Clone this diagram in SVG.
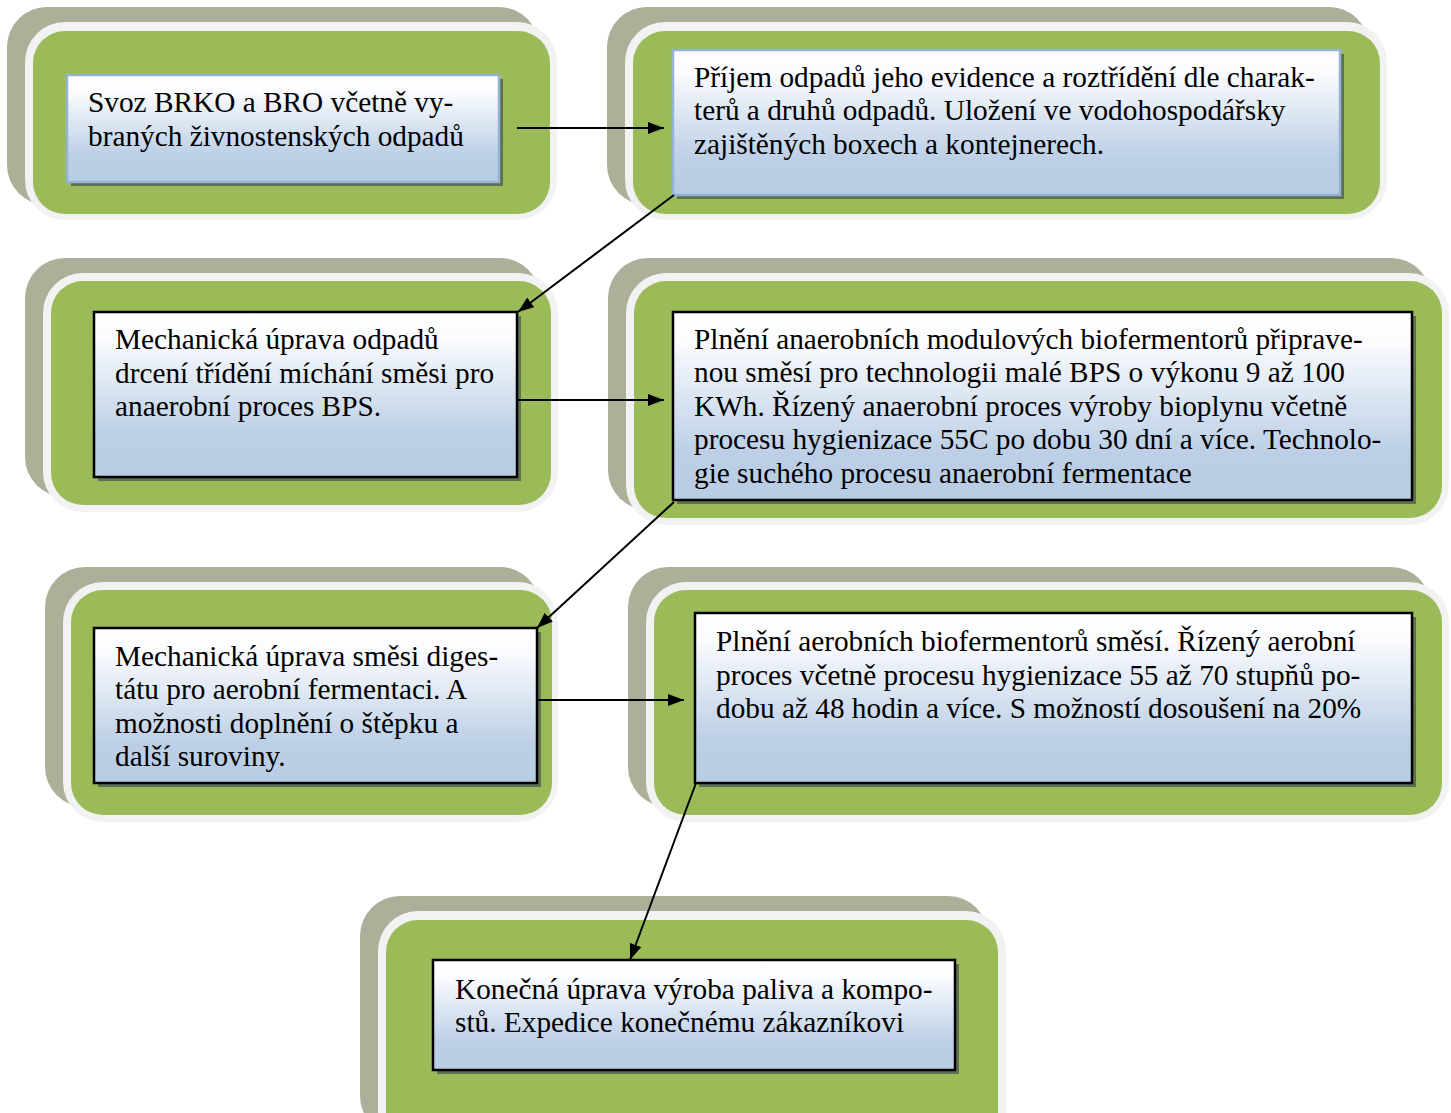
<svg xmlns="http://www.w3.org/2000/svg" width="1451" height="1113" viewBox="0 0 1451 1113">
<defs>
<linearGradient id="bg" x1="0" y1="0" x2="0" y2="1"><stop offset="0" stop-color="#ffffff"/><stop offset="0.15" stop-color="#fbfcfe"/><stop offset="0.75" stop-color="#bccfe6"/><stop offset="1" stop-color="#b8cce4"/></linearGradient>
<marker id="ah" viewBox="0 0 16 12" refX="16" refY="6" markerWidth="16" markerHeight="12" markerUnits="userSpaceOnUse" orient="auto"><path d="M0,0 L16,6 L0,12 z" fill="#000"/></marker>
</defs>
<style>
.sh{fill:#abb098}
.bd{fill:#f2f2f2}
.gr{fill:#9bbb59}
.bs{fill:#5f7052}
.bx{fill:url(#bg);stroke:#000;stroke-width:2.5}
.bx.lb{stroke:#95b3d7}
.t{font-family:"Liberation Serif","Times New Roman",serif;font-size:29.3px;fill:#000}
.c{stroke:#000;stroke-width:2;fill:none;marker-end:url(#ah)}
</style>
<rect width="1451" height="1113" fill="#fff"/>

<g id="n1">
<rect class="sh" x="7" y="7" width="532" height="198" rx="40"/>
<rect class="bd" x="25" y="22" width="532" height="198" rx="40"/>
<rect class="gr" x="33" y="31" width="517" height="183" rx="32"/>
<rect class="bs" x="71" y="79" width="432" height="107"/>
<rect class="bx lb" x="67" y="75" width="432" height="107"/>
<text class="t"><tspan x="88" y="112">Svoz BRKO a BRO včetně vy-</tspan><tspan x="88" y="146">braných živnostenských odpadů</tspan></text>
</g>

<g id="n2">
<rect class="sh" x="607" y="7" width="762" height="198" rx="40"/>
<rect class="bd" x="625" y="22" width="762" height="198" rx="40"/>
<rect class="gr" x="633" y="31" width="747" height="183" rx="32"/>
<rect class="bs" x="677" y="54" width="667" height="145"/>
<rect class="bx lb" x="673" y="50" width="667" height="145"/>
<text class="t"><tspan x="694" y="87">Příjem odpadů jeho evidence a roztřídění dle charak-</tspan><tspan x="694" y="120">terů a druhů odpadů. Uložení ve vodohospodářsky</tspan><tspan x="694" y="154">zajištěných boxech a kontejnerech.</tspan></text>
</g>

<g id="n3">
<rect class="sh" x="25" y="258" width="515" height="239" rx="40"/>
<rect class="bd" x="43" y="273" width="515" height="239" rx="40"/>
<rect class="gr" x="51" y="281" width="500" height="224" rx="32"/>
<rect class="bs" x="98" y="316" width="423" height="165"/>
<rect class="bx" x="94" y="312" width="423" height="165"/>
<text class="t"><tspan x="115" y="349">Mechanická úprava odpadů</tspan><tspan x="115" y="383">drcení třídění míchání směsi pro</tspan><tspan x="115" y="416">anaerobní proces BPS.</tspan></text>
</g>

<g id="n4">
<rect class="sh" x="608" y="258" width="823" height="252" rx="40"/>
<rect class="bd" x="626" y="273" width="823" height="252" rx="40"/>
<rect class="gr" x="634" y="281" width="808" height="237" rx="32"/>
<rect class="bs" x="677" y="316" width="739" height="188"/>
<rect class="bx" x="673" y="312" width="739" height="188"/>
<text class="t"><tspan x="694" y="349">Plnění anaerobních modulových biofermentorů připrave-</tspan><tspan x="694" y="382">nou směsí pro technologii malé BPS o výkonu 9 až 100</tspan><tspan x="694" y="416">KWh. Řízený anaerobní proces výroby bioplynu včetně</tspan><tspan x="694" y="449">procesu hygienizace 55C po dobu 30 dní a více. Technolo-</tspan><tspan x="694" y="483">gie suchého procesu anaerobní fermentace</tspan></text>
</g>

<g id="n5">
<rect class="sh" x="45" y="567" width="495" height="240" rx="40"/>
<rect class="bd" x="63" y="582" width="495" height="240" rx="40"/>
<rect class="gr" x="71" y="590" width="481" height="225" rx="32"/>
<rect class="bs" x="98" y="632" width="443" height="155"/>
<rect class="bx" x="94" y="628" width="443" height="155"/>
<text class="t"><tspan x="115" y="666">Mechanická úprava směsi diges-</tspan><tspan x="115" y="699">tátu pro aerobní fermentaci. A</tspan><tspan x="115" y="733">možnosti doplnění o štěpku a</tspan><tspan x="115" y="766">další suroviny.</tspan></text>
</g>

<g id="n6">
<rect class="sh" x="628" y="567" width="803" height="240" rx="40"/>
<rect class="bd" x="646" y="582" width="803" height="240" rx="40"/>
<rect class="gr" x="654" y="590" width="788" height="225" rx="32"/>
<rect class="bs" x="699" y="617" width="717" height="170"/>
<rect class="bx" x="695" y="613" width="717" height="170"/>
<text class="t"><tspan x="716" y="651">Plnění aerobních biofermentorů směsí. Řízený aerobní</tspan><tspan x="716" y="685">proces včetně procesu hygienizace 55 až 70 stupňů po-</tspan><tspan x="716" y="718">dobu až 48 hodin a více. S možností dosoušení na 20%</tspan></text>
</g>

<g id="n7">
<rect class="sh" x="360" y="896" width="628" height="240" rx="40"/>
<rect class="bd" x="378" y="911" width="628" height="240" rx="40"/>
<rect class="gr" x="386" y="920" width="612" height="224" rx="32"/>
<rect class="bs" x="437" y="964" width="522" height="110"/>
<rect class="bx" x="433" y="960" width="522" height="110"/>
<text class="t"><tspan x="455" y="999">Konečná úprava výroba paliva a kompo-</tspan><tspan x="455" y="1032">stů. Expedice konečnému zákazníkovi</tspan></text>
</g>

<g id="connectors">
<line class="c" x1="517" y1="128" x2="664" y2="128"/>
<line class="c" x1="674" y1="195" x2="518" y2="312"/>
<line class="c" x1="517" y1="400" x2="664" y2="400"/>
<line class="c" x1="674" y1="502" x2="537" y2="628"/>
<line class="c" x1="537" y1="700" x2="684" y2="700"/>
<line class="c" x1="696" y1="783" x2="630" y2="960"/>
</g>
</svg>
